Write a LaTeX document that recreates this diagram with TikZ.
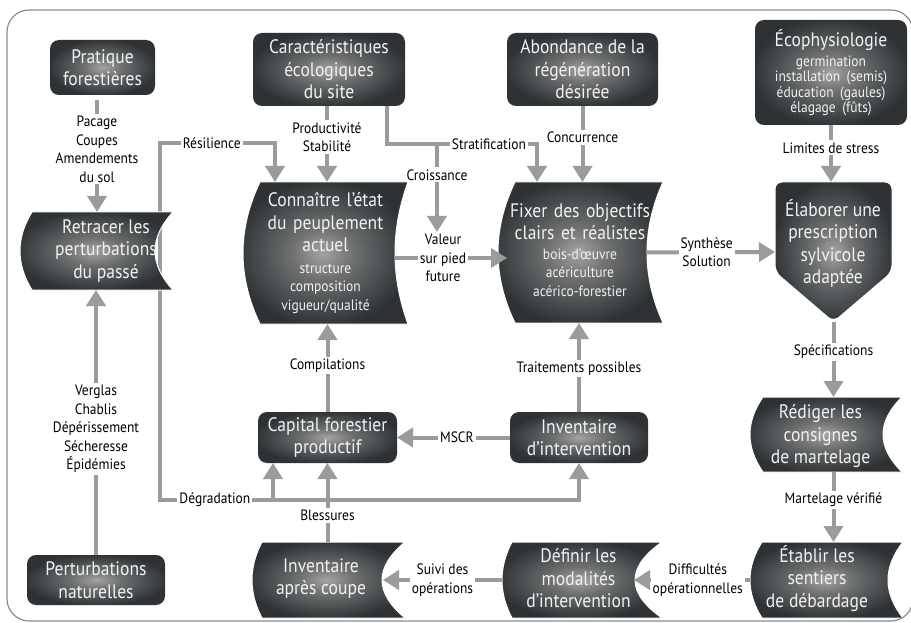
\documentclass[tikz,border=0pt]{standalone}
\usepackage{fontspec}
\setmainfont[FakeStretch=0.9]{PT Sans}
\usetikzlibrary{arrows.meta,calc}
\definecolor{arrgray}{HTML}{9B9B9B}
\definecolor{framegray}{HTML}{8C8C8C}
\definecolor{glowA}{HTML}{A4A4A4}
\definecolor{glowB}{HTML}{6E7071}
\definecolor{glowC}{HTML}{2E3234}
\definecolor{txtwhite}{HTML}{F2F2F2}
\pgfdeclareradialshading{glow}{\pgfpoint{0bp}{0bp}}{color(0bp)=(glowA); color(9bp)=(glowB); color(26bp)=(glowC); color(50bp)=(glowC)}
\pgfdeclarelayer{under}
\pgfdeclarelayer{shapes}
\pgfsetlayers{under,shapes,main}
\setlength{\parindent}{0pt}
\newcommand\ttlf{\fontsize{19.5}{22.5}\selectfont}
\newcommand\subfnt{\fontsize{15}{18.5}\selectfont}
\newcommand\ecofnt{\fontsize{15}{15.2}\selectfont}
\newcommand\lblfnt{\fontsize{15}{18.5}\selectfont}
\newcommand\sdshape[3]{%
  \path[boxshape] (#1.north west) -- (#1.north east)
    .. controls ($(#1.north east)!0.3333!(#1.south east)+(-1.333*#3,0)$) and ($(#1.north east)!0.6667!(#1.south east)+(-1.333*#3,0)$) .. (#1.south east)
    -- (#1.south west)
    .. controls ($(#1.north west)!0.6667!(#1.south west)+(-1.333*#2,0)$) and ($(#1.north west)!0.3333!(#1.south west)+(-1.333*#2,0)$) .. (#1.north west) -- cycle;}
\tikzset{
  rbox/.style={shade, shading=glow, rounded corners=9pt, inner sep=0pt, outer sep=0pt, text=txtwhite, font=\ttlf, align=center},
  bbox/.style={inner sep=0pt, outer sep=0pt},
  btext/.style={text=txtwhite, font=\ttlf, align=center, inner sep=0pt},
  boxshape/.style={shade, shading=glow, draw=white, line width=1pt},
  cline/.style={draw=arrgray, line width=4pt},
  arr/.style={cline, -{Triangle[width=19pt,length=16pt]}},
  lbl/.style={fill=white, inner sep=2pt, font=\lblfnt, align=center, text=black},
}
\begin{document}
\begin{tikzpicture}[x=1pt,y=-1pt]
\useasboundingbox (0,0) rectangle (911,623);
\draw[framegray, line width=1.2pt, rounded corners=22pt] (7,10) rectangle (913,621);

% rounded boxes
\node[rbox, minimum width=105pt, minimum height=55pt] (prat) at (102.5,67.5) {Pratique\\forestières};
\node[rbox, minimum width=152pt, minimum height=73pt] (carac) at (329,69.5) {Caractéristiques\\écologiques\\du site};
\node[rbox, minimum width=151pt, minimum height=73pt] (abond) at (582.5,69.5) {Abondance de la\\régénération\\désirée};
\node[rbox, minimum width=152pt, minimum height=105pt, text width=150pt] (eco) at (831,72.5) {Écophysiologie\par\vspace{5pt}{\ecofnt germination\\installation (semis)\\éducation (gaules)\\élagage (fûts)\par}};
\node[rbox, minimum width=139pt, minimum height=51pt] (cap) at (327.5,437.5) {Capital forestier\\productif};
\node[rbox, minimum width=138pt, minimum height=51pt] (invint) at (579,437.5) {Inventaire\\d’intervention};
\node[rbox, minimum width=138pt, minimum height=50pt] (pertnat) at (96,580) {Perturbations\\naturelles};

% bounding nodes of drawn shapes
\node[bbox, minimum width=141pt, minimum height=78pt] (retr) at (102.5,251) {};
\node[bbox, minimum width=148pt, minimum height=142pt] (conn) at (334,253) {};
\node[bbox, minimum width=148pt, minimum height=141pt] (fixer) at (589,252.5) {};
\node[bbox, minimum width=117pt, minimum height=140pt] (elab) at (833.5,252) {};
\node[bbox, minimum width=139pt, minimum height=75pt] (red) at (832.5,434.5) {};
\node[bbox, minimum width=141pt, minimum height=76pt] (etab) at (832.5,580) {};
\node[bbox, minimum width=150pt, minimum height=76pt] (def) at (587,580) {};
\node[bbox, minimum width=143pt, minimum height=76pt] (invap) at (333.5,580) {};

\begin{pgfonlayer}{shapes}
\sdshape{retr}{12}{18}
\sdshape{conn}{17}{13}
\sdshape{fixer}{17}{16}
\sdshape{red}{13}{19}
\sdshape{etab}{12}{15}
\sdshape{def}{10}{27}
\sdshape{invap}{10}{23}
\path[boxshape, rounded corners=7pt] (elab.north west) -- (elab.north east) -- ([yshift=50pt]elab.south east) -- (elab.south) -- ([yshift=50pt]elab.south west) -- cycle;
\end{pgfonlayer}

% texts of drawn shapes
\node[btext] (retr-t) at ([xshift=3.5pt]retr.center) {Retracer les\\perturbations\\du passé};
\node[btext, text width=165pt] (conn-t) at ([xshift=-8.5pt]conn.center) {Connaître l’état\\du peuplement\\actuel\par\vspace{3pt}{\subfnt structure\\composition\\vigueur/qualité\par}};
\node[btext, text width=165pt] (fixer-t) at ([xshift=-9pt,yshift=2.5pt]fixer.center) {Fixer des objectifs\\clairs et réalistes\par\vspace{1pt}{\subfnt bois-d’œuvre\\acériculture\\acérico-forestier\par}};
\node[btext] (elab-t) at ([xshift=-0.5pt,yshift=8.5pt]elab.center) {Élaborer une\\prescription\\sylvicole\\adaptée};
\node[btext] (red-t) at ([xshift=-12pt,yshift=-2pt]red.center) {Rédiger les\\consignes\\de martelage};
\node[btext] (etab-t) at ([xshift=-15.5pt,yshift=1.5pt]etab.center) {Établir les\\sentiers\\de débardage};
\node[btext] (def-t) at ([xshift=-8.5pt,yshift=1.5pt]def.center) {Définir les\\modalités\\d’intervention};
\node[btext] (invap-t) at ([xshift=-12.5pt,yshift=1.5pt]invap.center) {Inventaire\\après coupe};

% helper coordinates
\coordinate (kR) at (160,143);
\coordinate (kD) at (160,500);
\coordinate (ka) at ([xshift=-59pt]conn.north);
\coordinate (kb) at ([xshift=-54.5pt]cap.south);
\coordinate (kS) at (387,144);
\coordinate (kT) at (537,144);
\coordinate (kC) at (437,144);

\begin{pgfonlayer}{under}
\draw[cline, line cap=rect] (kR) -- (kD);
\end{pgfonlayer}

% connectors
\draw[arr] ([xshift=-5.5pt,yshift=-5pt]prat.south) -- node[lbl,pos=0.44]{Pacage\\Coupes\\Amendements\\du sol} ([xshift=-5.5pt]prat.south |- retr.north);
\draw[arr] (pertnat.north) -- node[lbl,pos=0.475]{Verglas\\Chablis\\Dépérissement\\Sécheresse\\Épidémies} (pertnat.north |- retr.south);
\draw[arr] (kR) -- node[lbl,pos=0.45]{Résilience} (kR -| ka) -- (ka);
\draw[arr] (kD) -- node[lbl,pos=0.131]{Dégradation} (kD -| invint.south) -- (invint.south);
\draw[arr] (kD -| kb) -- (kb);
\draw[arr] ([xshift=-2pt]carac.south) -- node[lbl,pos=0.41]{Productivité\\Stabilité} ([xshift=-2pt]carac.south |- conn.north);
\draw[arr] (carac.south -| kS) -- (kS) -- node[lbl,pos=0.68]{Stratification} (kT) -- (kT |- fixer.north);
\node[lbl] (valeur) at (443,258) {Valeur\\sur pied\\future};
\draw[arr] (kC) -- node[lbl,pos=0.35]{Croissance} (kC |- valeur.north);
\draw[cline] ([xshift=-13pt]conn.east |- valeur.west) -- (valeur.west);
\draw[arr] (valeur.east) -- ([xshift=-8pt]fixer.west |- valeur.east);
\draw[arr] (abond.south) -- node[lbl,pos=0.41]{Concurrence} (abond.south |- fixer.north);
\draw[arr] ([xshift=-17pt]fixer.east) -- node[lbl,pos=0.47]{Synthèse\\Solution} (elab.west);
\draw[arr] (eco.south) -- node[lbl,pos=0.4]{Limites de stress} (eco.south |- elab.north);
\draw[arr] (elab.south) -- node[lbl,pos=0.4]{Spécifications} (elab.south |- red.north);
\draw[arr] (red.south -| elab.south) -- node[lbl,pos=0.4]{Martelage vérifié} (elab.south |- etab.north);
\draw[arr] ([xshift=-12pt]etab.west) -- node[lbl,pos=0.45]{Difficultés\\opérationnelles} ([xshift=-28pt]def.east);
\draw[arr] ([xshift=-10pt]def.west) -- node[lbl,pos=0.5]{Suivi des\\opérations} ([xshift=-22pt]invap.east);
\draw[arr] (cap.south |- invap.north) -- node[lbl,pos=0.34]{Blessures} (cap.south);
\draw[arr] (invint.west) -- node[lbl,pos=0.47]{MSCR} (cap.east);
\draw[arr] (cap.north) -- node[lbl,pos=0.53]{Compilations} (cap.north |- conn.south);
\draw[arr] (invint.north) -- node[lbl,pos=0.49]{Traitements possibles} (invint.north |- fixer.south);
\end{tikzpicture}
\end{document}
